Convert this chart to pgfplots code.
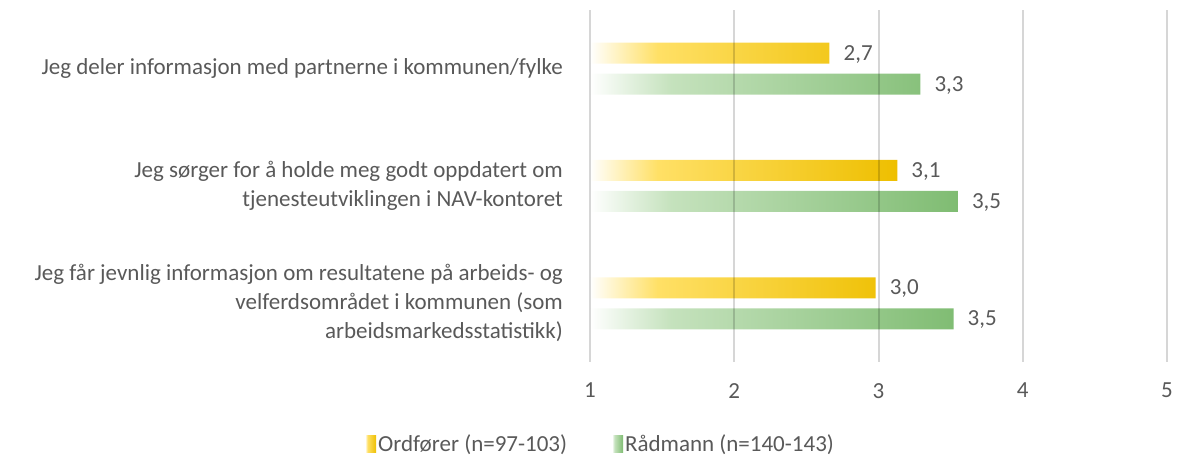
\documentclass[border=0pt]{standalone}
\usepackage{pgfplots}
\pgfplotsset{compat=1.18}
\usepackage{pgfplotstable}
\usepackage{fontspec}
\setmainfont{Carlito}
\definecolor{txt}{HTML}{595959}
\definecolor{yd}{HTML}{EEBF00}
\definecolor{yl}{HTML}{FFE066}
\definecolor{gd}{HTML}{7FBC72}
\definecolor{gl}{HTML}{C5E2BD}
\pgfdeclarehorizontalshading{yelshade}{100bp}{color(0bp)=(white); color(25bp)=(white); color(36bp)=(yl); color(75bp)=(yd); color(100bp)=(yd)}
\pgfdeclarehorizontalshading{grnshade}{100bp}{color(0bp)=(white); color(25bp)=(white); color(36bp)=(gl); color(75bp)=(gd); color(100bp)=(gd)}
\pgfplotstableread{
y v lab
2 2.66 2,7
1 3.13 3,1
0 2.98 3,0
}\ordf
\pgfplotstableread{
y v lab
2 3.29 3,3
1 3.55 3,5
0 3.52 3,5
}\radm
\begin{document}
\begin{tikzpicture}[x=1pt,y=1pt]
\useasboundingbox (0,0) rectangle (1180,457);
\begin{axis}[
  at={(590pt,95pt)}, anchor=south west,
  scale only axis, width=577pt, height=352pt,
  xbar, bar width=21pt,
  xmin=0, xmax=4, ymin=-0.5, ymax=2.5,
  xtick={0,1,2,3,4}, xticklabels={1,2,3,4,5},
  ytick={0,1,2},
  yticklabels={{Jeg får jevnlig informasjon om resultatene på arbeids- og\\velferdsområdet i kommunen (som\\arbeidsmarkedsstatistikk)},
               {Jeg sørger for å holde meg godt oppdatert om\\tjenesteutviklingen i NAV-kontoret},
               {Jeg deler informasjon med partnerne i kommunen/fylke}},
  yticklabel style={align=right, font=\fontsize{23}{29}\selectfont, text=txt, inner sep=0pt, xshift=-27pt},
  xticklabel style={font=\fontsize{23}{28}\selectfont, text=txt, inner sep=0pt, yshift=-21pt},
  axis line style={draw=none}, major tick length=0pt,
  xmajorgrids, grid style={draw=black, opacity=0.16, line width=2pt},
  axis on top, clip=false,
  nodes near coords, point meta=explicit symbolic,
  every node near coord/.append style={font=\fontsize{23}{28}\selectfont, text=txt, anchor=west, inner sep=0pt, xshift=14pt, yshift=-1pt},
  legend style={at={(-0.39,-0.232)}, anchor=west, draw=none, fill=none,
     font=\fontsize{23}{28}\selectfont, text=txt, inner sep=0pt,
     /tikz/every even column/.append style={column sep=43pt}},
  legend columns=2,
]
\addplot[draw=none, shading=yelshade, bar shift=15.5pt,
  legend image code/.code={\fill[shading=yelshade] (0pt,-8.5pt) rectangle (11pt,8.5pt);}]
  table[x expr=\thisrow{v}-1, y=y, meta=lab] {\ordf};
\addlegendentry{Ordfører (n=97-103)}
\addplot[draw=none, shading=grnshade, bar shift=-15.5pt,
  legend image code/.code={\fill[shading=grnshade] (0pt,-8.5pt) rectangle (11pt,8.5pt);}]
  table[x expr=\thisrow{v}-1, y=y, meta=lab] {\radm};
\addlegendentry{Rådmann (n=140-143)}
\end{axis}
\end{tikzpicture}
\end{document}
